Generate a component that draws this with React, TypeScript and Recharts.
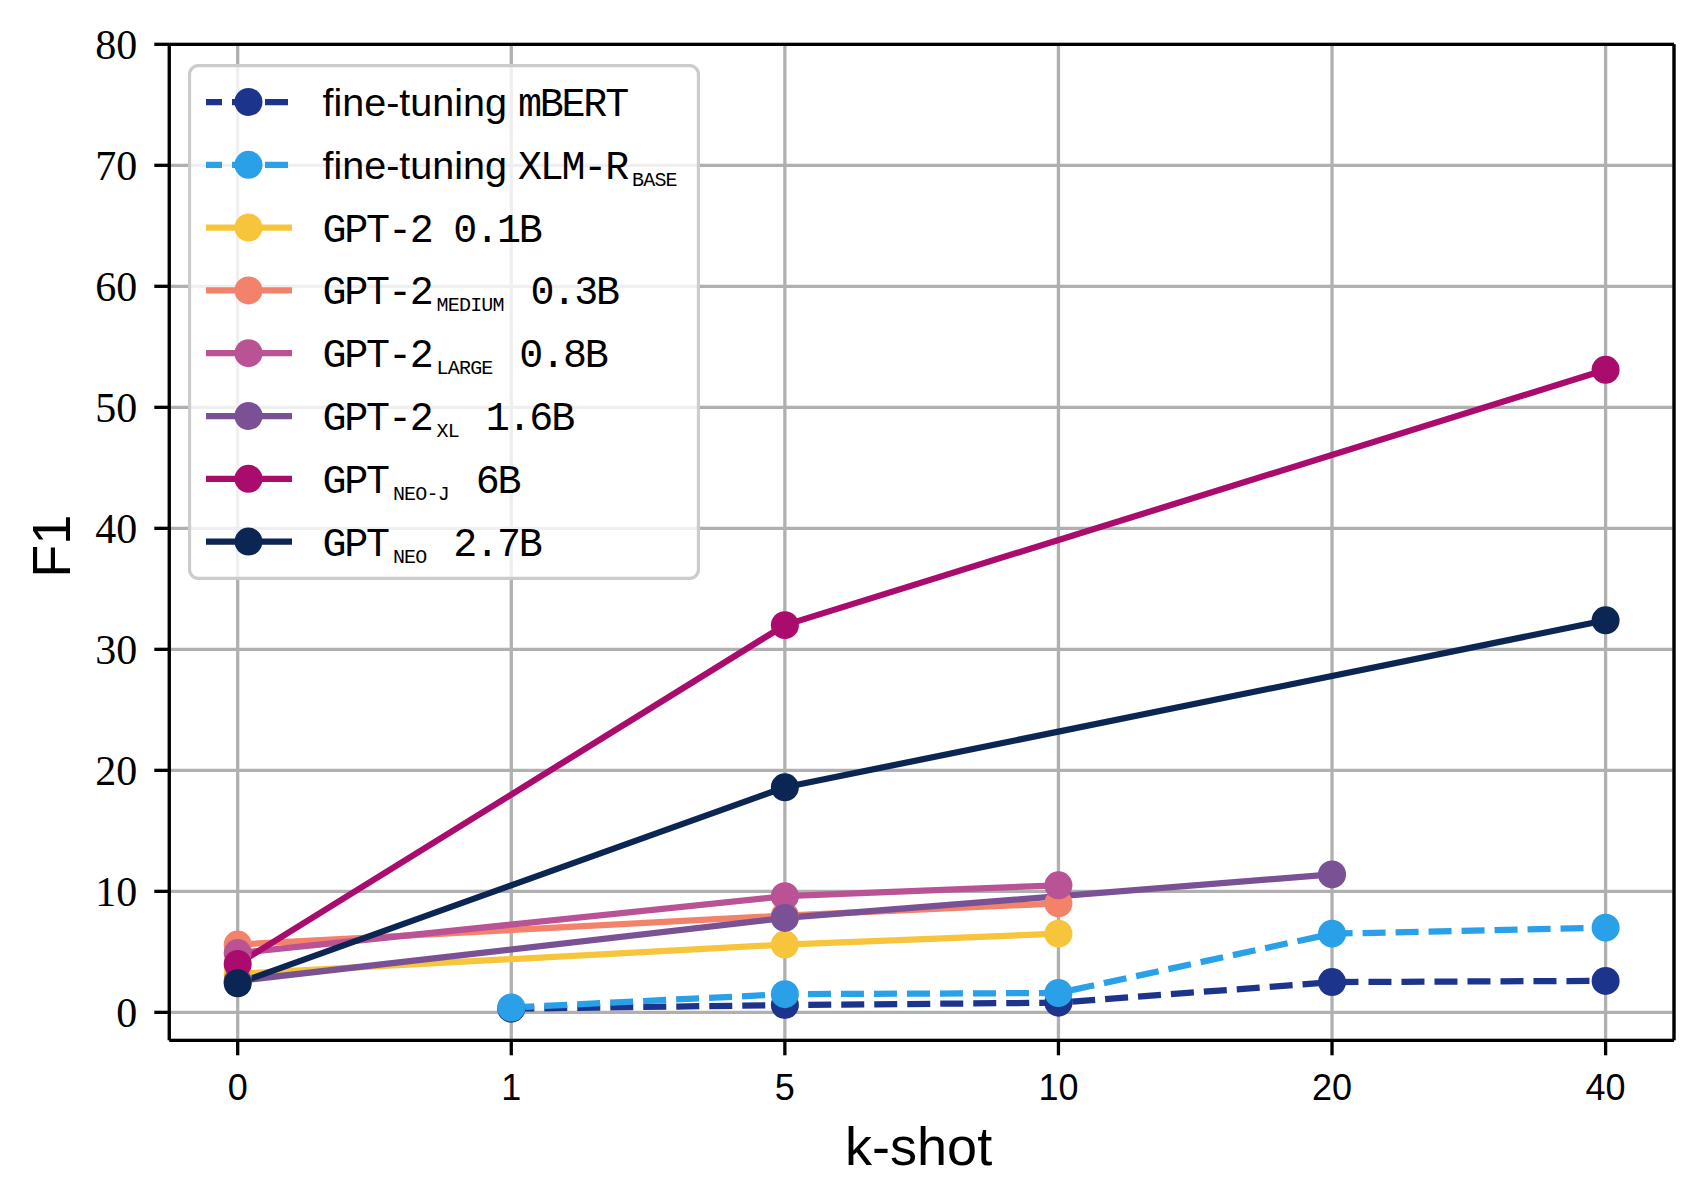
import React from 'react';
import { LineChart, Line, XAxis, YAxis, CartesianGrid, ReferenceLine } from 'recharts';

// k-shot categories, plotted at evenly spaced positions 0..5
const kShots = ['0', '1', '5', '10', '20', '40'];
const yTicks = [0, 10, 20, 30, 40, 50, 60, 70, 80];

// F1 per k-shot (null = not evaluated)
const mbert = [null, 0.3, 0.6, 0.8, 2.5, 2.6];
const xlmrBase = [null, 0.4, 1.5, 1.6, 6.5, 7.0];
const gpt2Small = [3.2, null, 5.6, 6.5, null, null];
const gpt2Medium = [5.6, null, 8.0, 9.0, null, null];
const gpt2Large = [4.9, null, 9.6, 10.5, null, null];
const gpt2Xl = [2.6, null, 7.8, null, 11.4, null];
const gptNeoJ = [4.0, null, 32.0, null, null, 53.1];
const gptNeo = [2.4, null, 18.6, null, null, 32.4];

type Seg = { t: string; f: 'sans' | 'mono' | 'sub' };

const series = [
  { key: 'mbert', values: mbert, color: '#1d348c', dashed: true,
    label: [{ t: 'fine-tuning', f: 'sans' }, { t: ' ', f: 'sans' }, { t: 'mBERT', f: 'mono' }] as Seg[] },
  { key: 'xlmr', values: xlmrBase, color: '#29a0e8', dashed: true,
    label: [{ t: 'fine-tuning', f: 'sans' }, { t: ' ', f: 'sans' }, { t: 'XLM-R', f: 'mono' }, { t: 'BASE', f: 'sub' }] as Seg[] },
  { key: 'gpt2', values: gpt2Small, color: '#f6c53c', dashed: false,
    label: [{ t: 'GPT-2 0.1B', f: 'mono' }] as Seg[] },
  { key: 'gpt2m', values: gpt2Medium, color: '#f3826a', dashed: false,
    label: [{ t: 'GPT-2', f: 'mono' }, { t: 'MEDIUM', f: 'sub' }, { t: ' 0.3B', f: 'mono' }] as Seg[] },
  { key: 'gpt2l', values: gpt2Large, color: '#ba5296', dashed: false,
    label: [{ t: 'GPT-2', f: 'mono' }, { t: 'LARGE', f: 'sub' }, { t: ' 0.8B', f: 'mono' }] as Seg[] },
  { key: 'gpt2xl', values: gpt2Xl, color: '#7a5195', dashed: false,
    label: [{ t: 'GPT-2', f: 'mono' }, { t: 'XL', f: 'sub' }, { t: ' 1.6B', f: 'mono' }] as Seg[] },
  { key: 'neoj', values: gptNeoJ, color: '#aa0c6e', dashed: false,
    label: [{ t: 'GPT', f: 'mono' }, { t: 'NEO-J', f: 'sub' }, { t: ' 6B', f: 'mono' }] as Seg[] },
  { key: 'neo', values: gptNeo, color: '#0c2654', dashed: false,
    label: [{ t: 'GPT', f: 'mono' }, { t: 'NEO', f: 'sub' }, { t: ' 2.7B', f: 'mono' }] as Seg[] },
];

const data = kShots.map((k, i) => {
  const row: Record<string, number | null> = { idx: i };
  series.forEach((s) => { row[s.key] = s.values[i]; });
  return row;
});

const LW = 6.25;
const DASH = '23 10';
const SPINE = 3.3;

function segStyle(f: Seg['f']) {
  if (f === 'sans') return { fontFamily: 'Liberation Sans', fontSize: 39.5 };
  if (f === 'sub') return { fontFamily: 'Liberation Mono', fontSize: 20, letterSpacing: -0.8 };
  return { fontFamily: 'Liberation Mono', fontSize: 40, letterSpacing: -2.2 };
}

function LegendBox() {
  const rowH = 62.8;
  return (
    <svg width={512} height={516} style={{ position: 'absolute', left: 188, top: 64 }}>
      <rect x={1.5} y={1.5} width={509} height={513} rx={9} ry={9}
        fill="rgba(255,255,255,0.8)" stroke="#cccccc" strokeWidth={3.3} />
      {series.map((s, i) => {
        const cy = 38 + i * rowH;
        return (
          <g key={s.key}>
            <line x1={18} x2={104} y1={cy} y2={cy} stroke={s.color} strokeWidth={LW}
              strokeDasharray={s.dashed ? DASH : undefined} strokeDashoffset={s.dashed ? 7 : undefined} />
            <circle cx={60.5} cy={cy} r={14} fill={s.color} />
            <text x={134.5} y={cy + 14} fill="#000" style={{ whiteSpace: 'pre' }}>
              {s.label.map((seg, j) => {
                const prev = j > 0 ? s.label[j - 1].f : null;
                let dy = 0;
                let dx = 0;
                if (seg.f === 'sub') { dy = 7; dx = 5; }
                else if (prev === 'sub') { dy = -7; dx = 5; }
                return (
                  <tspan key={j} dy={dy} dx={dx} style={segStyle(seg.f)}>{seg.t}</tspan>
                );
              })}
            </text>
          </g>
        );
      })}
    </svg>
  );
}

const XLabel = (props: any) => {
  const vb = props.viewBox;
  return (
    <text x={vb.x + vb.width / 2 - 3} y={vb.y + 124.5} textAnchor="middle"
      fontFamily="Liberation Sans" fontSize={54} fill="#000">k-shot</text>
  );
};

const YLabel = (props: any) => {
  const vb = props.viewBox;
  const cx = 70;
  const cy = vb.y + vb.height / 2 + 4;
  return (
    <text x={cx} y={cy} transform={`rotate(-90 ${cx} ${cy})`} textAnchor="middle"
      fontFamily="Liberation Sans" fontSize={54} fill="#000">F1</text>
  );
};

export default function App() {
  return (
    <div style={{ position: 'absolute', left: 0, top: 0, width: 1703, height: 1204, background: '#fff' }}>
      <LineChart width={1703} height={1204} data={data}
        margin={{ top: 44.3, right: 29, left: 0, bottom: 0 }}>
        <CartesianGrid stroke="#b0b0b0" strokeWidth={SPINE} />
        <XAxis dataKey="idx" type="number" domain={[-0.25, 5.25]} ticks={[0, 1, 2, 3, 4, 5]}
          tickFormatter={(v: number) => kShots[v]} height={163.7} allowDataOverflow
          axisLine={{ stroke: '#000', strokeWidth: SPINE }}
          tickLine={{ stroke: '#000', strokeWidth: SPINE }} tickSize={15} tickMargin={19}
          tick={{ fontFamily: 'Liberation Sans', fontSize: 36, fill: '#000' }}
          label={{ content: XLabel }} />
        <YAxis type="number" domain={[-2.31, 80]} ticks={yTicks} width={169.3} allowDataOverflow
          axisLine={{ stroke: '#000', strokeWidth: SPINE }}
          tickLine={{ stroke: '#000', strokeWidth: SPINE }} tickSize={15} tickMargin={17}
          tick={{ fontFamily: 'Liberation Serif', fontSize: 42, fill: '#000' }}
          label={{ content: YLabel }} />
        {series.map((s) => (
          <Line key={s.key} dataKey={s.key} type="linear" stroke={s.color} strokeWidth={LW}
            strokeDasharray={s.dashed ? DASH : undefined} strokeLinejoin="round"
            connectNulls isAnimationActive={false} activeDot={false}
            dot={{ r: 14, fill: s.color, stroke: s.color, strokeWidth: 0 }} />
        ))}
        <ReferenceLine y={80} stroke="#000" strokeWidth={SPINE} />
        <ReferenceLine x={5.25} stroke="#000" strokeWidth={SPINE} />
      </LineChart>
      <LegendBox />
    </div>
  );
}
